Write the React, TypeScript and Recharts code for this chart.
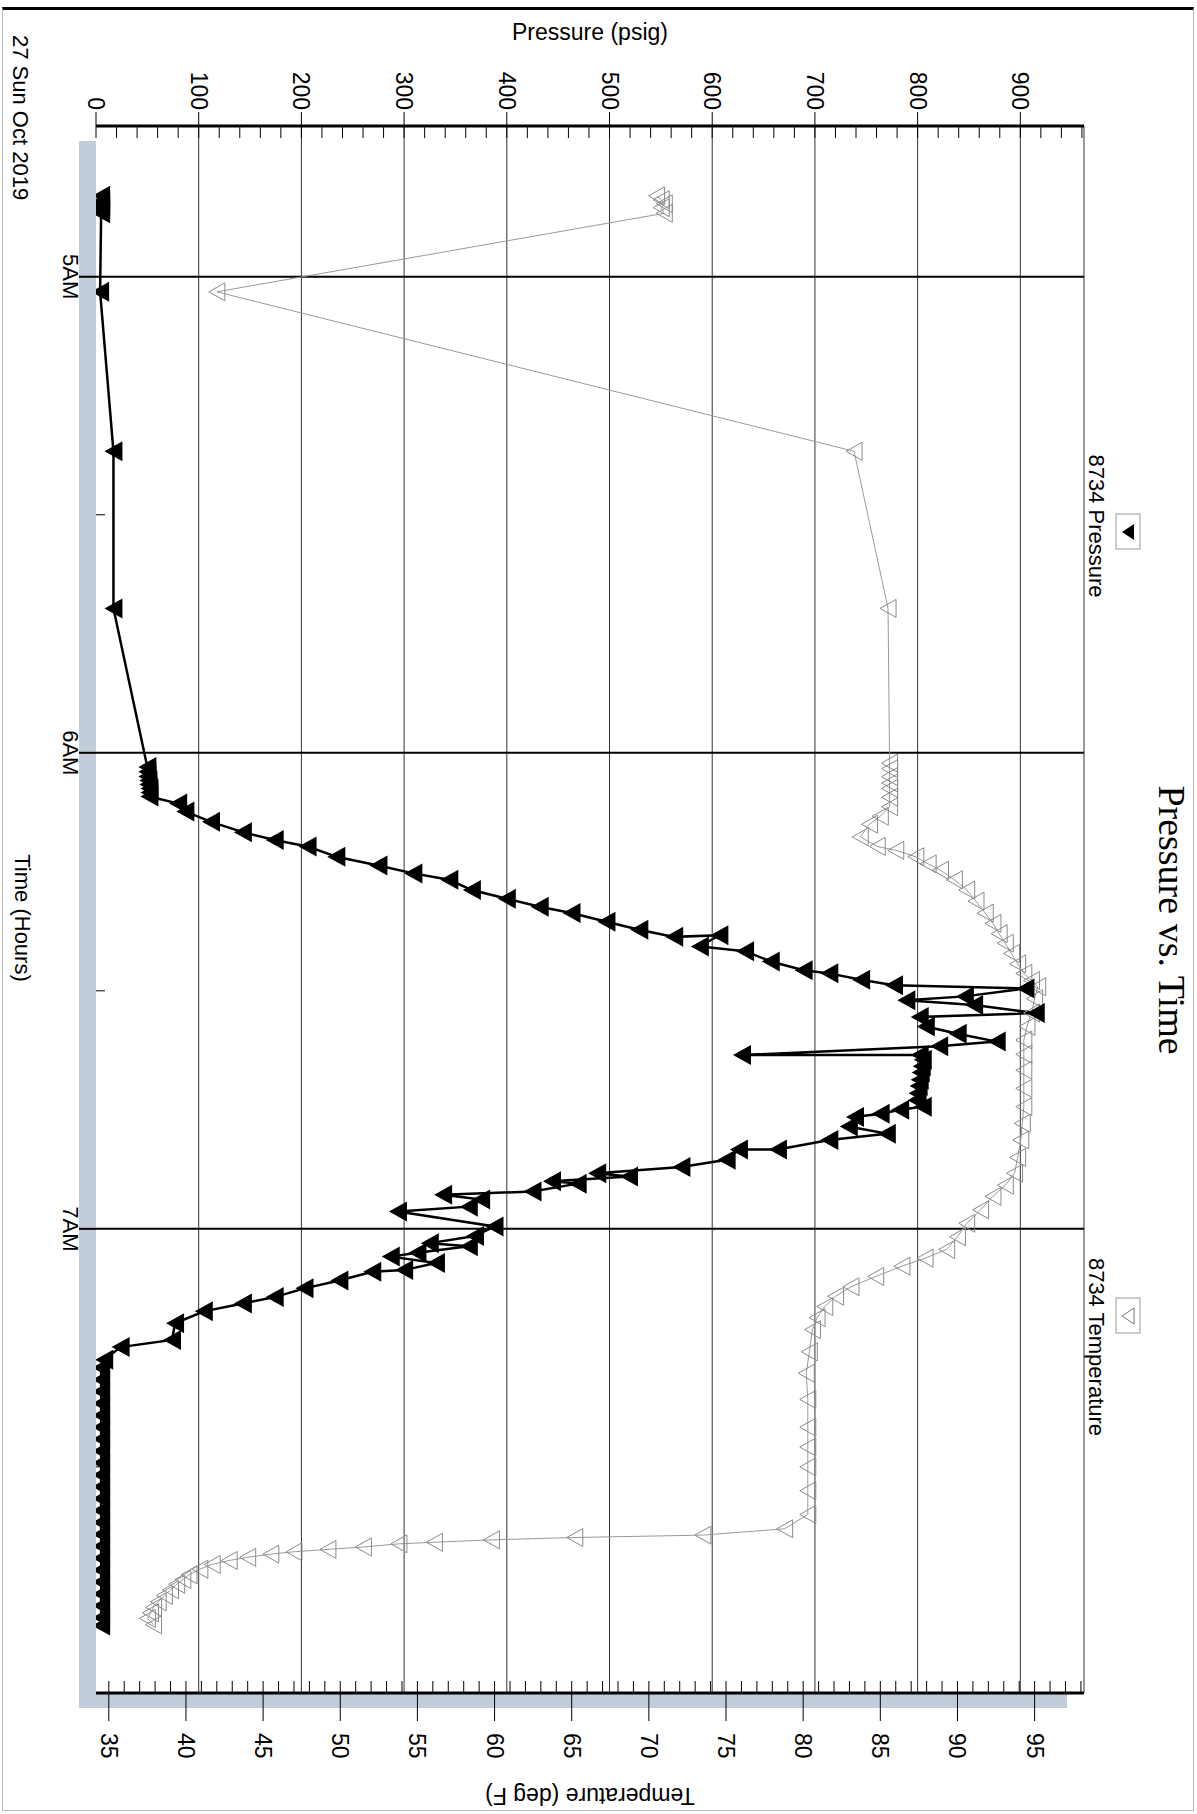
import React from "react";
import { LineChart, Line, XAxis, YAxis, ReferenceLine } from "recharts";

// time in minutes after midnight, pressure in psig
const pressureData = [
  [289.8, 5], [290.5, 5], [291, 5], [291.5, 5], [292, 5],
  [301.9, 4], [322, 17], [341.8, 17],
  [361.8, 50], [362.4, 50], [363, 50], [363.5, 51], [364, 51], [364.5, 52], [365, 52], [365.5, 52], [366.4, 80], [367.4, 87],
  [368.7, 112], [370, 143], [371, 174], [371.8, 206], [373.1, 234], [374.2, 275],
  [375.2, 309], [376, 344], [377.3, 366], [378.4, 400], [379.4, 432], [380.2, 463],
  [381.3, 497], [382.3, 529], [383.2, 563], [383, 607], [384.4, 588], [385, 632],
  [386.3, 657], [387.4, 689], [387.8, 714], [388.6, 745], [389.3, 777], [389.7, 905],
  [390.7, 846], [391.2, 789], [391.8, 855], [392.8, 915], [393.3, 802], [394.5, 808],
  [395.4, 839], [396.4, 877], [397, 821], [398.1, 629], [398.1, 802],
  [398.7, 805], [399.5, 804], [400.3, 803], [401.2, 802], [402, 801], [402.9, 800], [403.8, 799], [404.6, 805], [405, 783], [405.5, 764],
  [405.9, 739], [407.1, 733], [408, 770], [408.8, 714], [410, 664], [410, 626],
  [411.3, 614], [412.2, 570], [413, 488], [413.4, 519], [414, 444], [414.3, 469],
  [415.3, 425], [415.7, 338], [416.3, 375], [417.2, 363], [417.8, 294], [419.7, 388],
  [420.9, 369], [421.8, 325], [422.2, 363], [423, 313], [423.5, 287], [424.3, 331],
  [425.2, 300], [425.4, 269], [426.5, 237], [427.5, 203], [428.6, 174], [429.4, 143],
  [430.4, 105], [431.9, 77], [434, 74], [434.9, 24], [436.5, 8],
  [437.5, 5], [439, 5], [440.5, 5], [442, 5], [443.5, 5], [445, 5], [446.5, 5], [448, 5],
  [449.5, 5], [451, 5], [452.5, 5], [454, 5], [455.5, 5], [457, 5], [458.5, 5], [460, 5],
  [461.5, 5], [463, 5], [464.5, 5], [466, 5], [467.5, 5], [469, 5], [470, 5],
].map(([t, v]) => ({ t, v }));

// time in minutes after midnight, temperature in deg F
const temperatureData = [
  [289.8, 70.5], [290.3, 70.8], [290.8, 71], [291.3, 70.8], [292, 71],
  [301.9, 42], [322, 83.3], [341.8, 85.5],
  [361.3, 85.6], [362, 85.6], [363, 85.6], [363.8, 85.6], [364.5, 85.6], [365.6, 85.6], [366.8, 85.6],
  [368, 85], [369, 84.3], [370.6, 83.7], [371.8, 84.8], [372.3, 86], [373.1, 87.3], [374, 88.1],
  [374.8, 88.9], [376, 89.8], [377.3, 90.6], [378.7, 91.2], [380.2, 91.8], [381.5, 92.3],
  [382.8, 92.7], [384, 93.1], [385.3, 93.5], [386.6, 93.9], [387.8, 94.3], [388.7, 94.8],
  [389.5, 95.2], [391, 95], [392.8, 94.8], [394.5, 94.5], [396.2, 94.3], [398, 94.3],
  [400, 94.3], [402.3, 94.3], [404.6, 94.3], [406.7, 94.2], [408.8, 94.1], [411, 93.9],
  [413, 93.7], [414.5, 93.1], [415.9, 92.3], [417.6, 91.5], [419.3, 90.6], [421, 90],
  [422.6, 89.3], [423.7, 87.9], [424.7, 86.4], [426, 84.7], [427.3, 83.1], [428.5, 82.1],
  [429.8, 81.4], [431.2, 80.9], [432.7, 80.6], [435.5, 80.4], [438.2, 80.2], [441.5, 80.3],
  [445, 80.3], [447.5, 80.3], [450, 80.3], [453, 80.3], [456, 80.3], [457.8, 78.8], [458.6, 73.5],
  [458.9, 65.2], [459.2, 59.8], [459.5, 56.1], [459.7, 53.8], [460.1, 51.5], [460.4, 49.2],
  [460.7, 47], [461, 45.5], [461.4, 44], [461.8, 42.8], [462.3, 41.7], [462.9, 40.9],
  [463.6, 40.2], [464.2, 39.8], [464.8, 39.4], [465.5, 39], [466.2, 38.6], [467, 38.2],
  [467.7, 37.9], [468.4, 37.7], [469.1, 37.5], [469.9, 37.9],
].map(([t, v]) => ({ t, v }));

const timeTicks = [300, 330, 360, 390, 420, 450];
const hourLabels: Record<number, string> = { 300: "5AM", 360: "6AM", 420: "7AM" };
const pressureTicks = Array.from({ length: 49 }, (_, i) => i * 20);
const pressureGrid = [100, 200, 300, 400, 500, 600, 700, 800, 900];
const tempTicks = Array.from({ length: 64 }, (_, i) => 35 + i);

const W = 1814;
const H = 1197;
const PL = 126;
const PR = 1693;
const PT = 113;
const PB = 1101;
const FONT = "'Liberation Sans', Arial, sans-serif";

const TimeTick = (props: any) => {
  const { x, payload } = props;
  const label = hourLabels[payload.value];
  if (!label) return <line x1={x} x2={x} y1={PB} y2={PB - 9} stroke="#000" />;
  return (
    <g>
      <line x1={x} x2={x} y1={PB} y2={PB + 17} stroke="#000" strokeWidth={2} />
      <text x={x} y={PB + 33} textAnchor="middle" fontSize={22} fontFamily={FONT}>{label}</text>
    </g>
  );
};

const PressureTick = (props: any) => {
  const { y, payload } = props;
  const v = payload.value;
  if (v % 100 !== 0) return <line x1={PL} x2={PL + 12} y1={y} y2={y} stroke="#000" />;
  return (
    <g>
      <line x1={PL - 14} x2={PL + 12} y1={y} y2={y} stroke="#000" />
      <text x={PL - 16} y={y + 8} textAnchor="end" fontSize={23} fontFamily={FONT}>{v}</text>
    </g>
  );
};

const TempTick = (props: any) => {
  const { y, payload } = props;
  const v = payload.value;
  if (v % 5 !== 0) return <line x1={PR - 12} x2={PR} y1={y} y2={y} stroke="#000" />;
  return (
    <g>
      <line x1={PR - 12} x2={PR + 28} y1={y} y2={y} stroke="#000" />
      <text x={PR + 40} y={y + 8} textAnchor="start" fontSize={23} fontFamily={FONT}>{v}</text>
    </g>
  );
};

const PressureDot = (p: any) => {
  const { cx, cy, index } = p;
  if (cx == null || cy == null) return <g key={index} />;
  return <path key={index} d={`M${cx - 10},${cy - 9} L${cx + 10},${cy - 9} L${cx},${cy + 9} Z`} fill="#000" />;
};

const TempDot = (p: any) => {
  const { cx, cy, index } = p;
  if (cx == null || cy == null) return <g key={index} />;
  return (
    <path key={index} d={`M${cx - 9},${cy - 8} L${cx + 9},${cy - 8} L${cx},${cy + 8} Z`}
      fill="none" stroke="#8a8a8a" strokeWidth={1} />
  );
};

export default function App() {
  document.body.style.margin = "0";
  return (
    <div style={{ position: "relative", width: 1197, height: 1814, overflow: "hidden", background: "#fff" }}>
      <div
        style={{
          position: "absolute", left: 0, top: 0, width: W, height: H,
          transform: "translate(1197px, 0) rotate(90deg)", transformOrigin: "0 0",
        }}
      >
        <div style={{ position: "absolute", left: 7, top: 3, width: W - 10, height: H - 5, border: "1px solid #bbb", borderLeft: "3px solid #000", boxSizing: "border-box" }} />
        <div style={{ position: "absolute", left: PL + 15, top: PT + 17, width: PR - PL, height: PB - PT, background: "#c2cdd9" }} />
        <div style={{ position: "absolute", left: PL, top: PT, width: PR - PL, height: PB - PT, background: "#fff" }} />
        <div style={{ position: "absolute", left: 0, top: 0 }}>
          <LineChart width={W} height={H} margin={{ top: PT, right: 21, bottom: 36, left: 26 }}>
            <XAxis dataKey="t" type="number" domain={[281, 478.5]} ticks={timeTicks} allowDataOverflow
              axisLine={false} tickLine={false} tick={TimeTick} height={60} interval={0} />
            <YAxis yAxisId="p" type="number" domain={[0, 962]} ticks={pressureTicks} allowDataOverflow
              axisLine={{ stroke: "#000", strokeWidth: 3 }} tickLine={false} tick={PressureTick} width={100} interval={0} />
            <YAxis yAxisId="T" orientation="right" type="number" domain={[34.17, 98.2]} ticks={tempTicks} allowDataOverflow
              axisLine={{ stroke: "#000", strokeWidth: 3 }} tickLine={false} tick={TempTick} width={100} interval={0} />
            {pressureGrid.map((v) => (
              <ReferenceLine key={v} yAxisId="p" y={v} stroke="#333" strokeWidth={1} />
            ))}
            <ReferenceLine yAxisId="p" y={962} stroke="#333" strokeWidth={1} />
            {[300, 360, 420].map((v) => (
              <ReferenceLine key={v} yAxisId="p" x={v} stroke="#000" strokeWidth={2} />
            ))}
            <Line yAxisId="T" data={temperatureData} dataKey="v" type="linear" stroke="#999" strokeWidth={1}
              dot={TempDot} isAnimationActive={false} />
            <Line yAxisId="p" data={pressureData} dataKey="v" type="linear" stroke="#000" strokeWidth={2.5}
              dot={PressureDot} isAnimationActive={false} />
            <text x={920} y={38} textAnchor="middle" fontSize={38} fontFamily="'Liberation Serif', serif">Pressure vs. Time</text>
            <text x={526} y={108} textAnchor="middle" fontSize={22} fontFamily={FONT}>8734 Pressure</text>
            <rect x={514} y={57} width={35} height={24} fill="#fff" stroke="#999" />
            <path d="M524,63 L540,63 L532,75 Z" fill="#000" />
            <text x={1347} y={108} textAnchor="middle" fontSize={22} fontFamily={FONT}>8734 Temperature</text>
            <rect x={1298} y={57} width={35} height={24} fill="#fff" stroke="#999" />
            <path d="M1308,63 L1324,63 L1316,75 Z" fill="none" stroke="#777" />
            <text x={35} y={1184} fontSize={22} fontFamily={FONT}>27 Sun Oct 2019</text>
            <text x={918} y={1182} textAnchor="middle" fontSize={22} fontFamily={FONT}>Time (Hours)</text>
            <text x={0} y={0} transform={`translate(40, 607) rotate(-90)`} textAnchor="middle" fontSize={23} fontFamily={FONT}>Pressure (psig)</text>
            <text x={0} y={0} transform={`translate(1788, 607) rotate(90)`} textAnchor="middle" fontSize={23} fontFamily={FONT}>Temperature (deg F)</text>
          </LineChart>
        </div>
      </div>
    </div>
  );
}
